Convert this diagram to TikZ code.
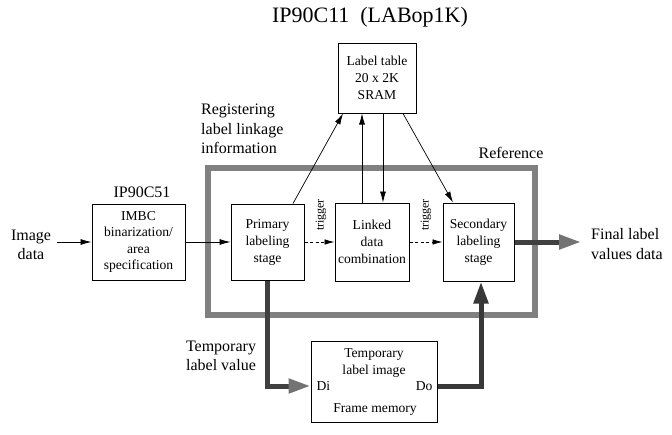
\documentclass[tikz,border=0pt]{standalone}
\usepackage{fontspec}
\setmainfont{Liberation Serif}
\usetikzlibrary{arrows.meta,calc}
\begin{document}
\begin{tikzpicture}[x=1pt,y=-1pt,
  box/.style={draw,line width=1pt,inner sep=0pt,align=center,font=\fontsize{13.6}{17}\selectfont},
  lbl/.style={inner sep=0pt,font=\fontsize{16}{19.5}\selectfont},
  thin arrow/.style={line width=0.7pt,-{Latex[length=11pt,width=6pt]}},
  dash arrow/.style={line width=0.7pt,dash pattern=on 3pt off 2.5pt,-{Latex[length=10pt,width=5.5pt]}},
  fat arrow/.style={line width=5pt,draw=black!75,-{Triangle[length=22pt,width=14pt,color=black!55,fill=black!55]}},
  fat dark/.style={line width=5pt,draw=black!78,-{Triangle[length=22pt,width=14pt,color=black!78,fill=black!78]}},
  trig/.style={inner sep=0pt,rotate=90,font=\fontsize{12}{14}\selectfont}
]
\useasboundingbox (0,0) rectangle (672,434);
% reference frame
\draw[line width=6pt,draw=black!50] (208,168) rectangle (535,315);
% title
\node[inner sep=0pt,font=\fontsize{22}{26}\selectfont] (title) at (370,17) {IP90C11\ \ (LABop1K)};
% boxes
\node[box,minimum width=78pt,minimum height=70pt] (lt) at (377,78) {Label table\\20 x 2K\\SRAM};
\node[box,minimum width=93pt,minimum height=76pt,font=\fontsize{13.6}{16.5}\selectfont] (imbc) at (138.5,242) {IMBC\\binarization/\\area\\specification};
\node[box,minimum width=73pt,minimum height=76pt] (prim) at (267.5,242) {Primary\\labeling\\stage};
\node[box,minimum width=74pt,minimum height=78pt] (linked) at (372,242) {Linked\\data\\combination};
\node[box,minimum width=71pt,minimum height=78pt] (sec) at (478.5,242) {Secondary\\labeling\\stage};
\node[box,minimum width=126pt,minimum height=81pt] (fm) at (374,381.5) {};
\node[box,draw=none,anchor=center] (fmt) at (374,363) {Temporary\\label image};
\node[box,draw=none] (fmf) at (375,410) {Frame memory};
\node[box,draw=none,anchor=west] (di) at (316,386) {Di};
\node[box,draw=none,anchor=east] (do) at (433,386) {Do};
% labels
\node[lbl,align=left,anchor=west] (reg) at (201,129) {Registering\\label linkage\\information};
\node[lbl] (ref) at (511,153) {Reference};
\node[lbl] (ip51) at (142,192) {IP90C51};
\node[lbl,align=center] (img) at (31,245) {Image\\data};
\node[lbl,align=left,anchor=west] (fin) at (591,244) {Final label\\values data};
\node[lbl,align=center] (tmp) at (221,356) {Temporary\\label value};
\node[trig] (t1) at (321,215) {trigger};
\node[trig] (t2) at (426,215) {trigger};
% connectors
\coordinate (imgin) at (57,242);
\coordinate (fout) at (581,242);
\draw[thin arrow] (imgin) -- (imbc.west);
\draw[thin arrow] (imbc.east) -- (prim.west);
\draw[dash arrow] (prim.east) -- (linked.west);
\draw[dash arrow] (linked.east) -- (sec.west);
\draw[thin arrow] ([xshift=25.5pt]prim.north) -- ([xshift=-34pt]lt.south);
\draw[thin arrow] ([xshift=-10pt]linked.north) -- ([xshift=-15pt]lt.south);
\draw[thin arrow] ([xshift=6pt]lt.south) -- ([xshift=11pt]linked.north);
\draw[thin arrow] ([xshift=26pt]lt.south) -- ([xshift=-25.5pt]sec.north);
\draw[fat arrow] (sec.east) -- (fout);
\draw[fat arrow] (prim.south) |- ([yshift=-4.5pt]fm.west);
\draw[fat dark] ([yshift=-4.5pt]fm.east) -| ([xshift=2.5pt]sec.south);
\end{tikzpicture}
\end{document}
